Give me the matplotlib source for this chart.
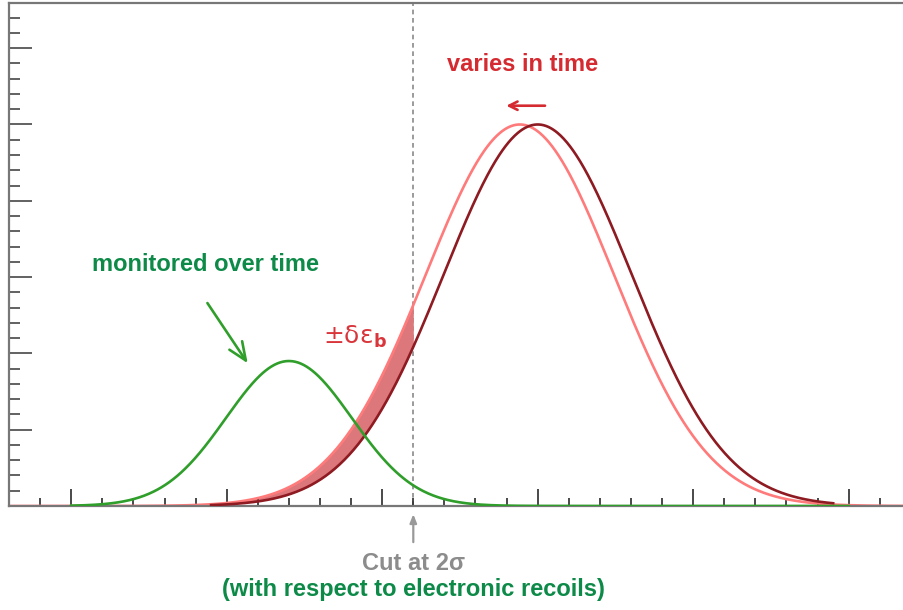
import numpy as np
import matplotlib
matplotlib.use("Agg")
import matplotlib.pyplot as plt
from matplotlib.ticker import MultipleLocator, NullFormatter

plt.rcParams['font.family'] = ['Liberation Sans', 'DejaVu Sans']

# Gaussian shapes: (centre, width, height)
nuclear_peak = (1.40, 0.405, 1.90)        # monitored population (green)
electronic_peak = (3.00, 0.605, 5.00)     # electronic recoils, reference position
electronic_shifted = (2.885, 0.605, 5.00) # electronic recoils, shifted in time
cut_position = 2.20

# drawing ranges of the curves
green_range = (0.0, 5.0)
dark_range = (0.9, 4.9)

x_limits = (-0.4, 5.6)
y_limits = (0.0, 6.592)

GREEN = '#2f9e2a'
PINK = '#ff7a7a'
DARK = '#8e1a22'
FILL = '#dc777b'
TEXT_GREEN = '#0d8a48'
TEXT_RED = '#d42a30'
GRAY = '#8c8c8c'
FS = 17


def gauss(x, p):
    mu, sig, amp = p
    return amp * np.exp(-0.5 * ((x - mu) / sig) ** 2)


fig = plt.figure(figsize=(9.04, 6.10), dpi=100)
ax = fig.add_axes([9 / 904, 104 / 610, 933 / 904, 503 / 610])
ax.set_xlim(*x_limits)
ax.set_ylim(*y_limits)

x_all = np.linspace(x_limits[0], x_limits[1], 1200)
x_green = np.linspace(*green_range, 800)
x_dark = np.linspace(*dark_range, 800)
x_fill = np.linspace(0.9, cut_position, 400)

ax.fill_between(x_fill, gauss(x_fill, electronic_peak), gauss(x_fill, electronic_shifted),
                color=FILL, lw=0, zorder=1)
ax.plot(x_all, gauss(x_all, electronic_shifted), color=PINK, lw=1.9, zorder=2)
ax.plot(x_dark, gauss(x_dark, electronic_peak), color=DARK, lw=1.9, zorder=3)
ax.plot(x_green, gauss(x_green, nuclear_peak), color=GREEN, lw=1.9, zorder=4)

ax.axvline(cut_position, color='#8a8a8a', lw=1.2, ls=(0, (2.8, 2.2)), zorder=0)

# frame and ticks
for side in ('left', 'bottom', 'top'):
    ax.spines[side].set_color('#777777')
    ax.spines[side].set_linewidth(1.6)
ax.spines['right'].set_visible(False)

ax.xaxis.set_major_locator(MultipleLocator(1.0))
ax.xaxis.set_minor_locator(MultipleLocator(0.2))
ax.yaxis.set_major_locator(MultipleLocator(1.0))
ax.yaxis.set_minor_locator(MultipleLocator(0.2))
ax.xaxis.set_major_formatter(NullFormatter())
ax.yaxis.set_major_formatter(NullFormatter())
ax.tick_params(axis='x', which='major', direction='in', length=12.5, width=1.2, color='#2a2a2a')
ax.tick_params(axis='x', which='minor', direction='in', length=5.5, width=1.2, color='#2a2a2a')
ax.tick_params(axis='y', which='major', direction='in', length=16.5, width=1.3, color='#555555')
ax.tick_params(axis='y', which='minor', direction='in', length=8.0, width=1.3, color='#555555')

# annotations
ax.text(2.905, 5.79, 'varies in time', color=TEXT_RED, fontsize=FS, fontweight='bold',
        ha='center', va='center')
ax.annotate('', xy=(2.78, 5.246), xytext=(3.065, 5.246),
            arrowprops=dict(arrowstyle='->,head_length=0.6,head_width=0.3', color=TEXT_RED, lw=1.9))

ax.text(0.866, 3.159, 'monitored over time', color=TEXT_GREEN, fontsize=FS, fontweight='bold',
        ha='center', va='center')
ax.annotate('', xy=(1.145, 1.84), xytext=(0.866, 2.69),
            arrowprops=dict(arrowstyle='->,head_length=1.3,head_width=0.55', color=GREEN, lw=1.9))

ax.text(1.825, 2.22, '±δε$_{\\mathbf{b}}$', color='#d9363c', fontsize=18,
        family='DejaVu Sans', ha='center', va='center')

ax.annotate('', xy=(cut_position, -0.07), xytext=(cut_position, -0.51),
            arrowprops=dict(arrowstyle='-|>,head_length=0.5,head_width=0.2', color='#999999', lw=1.6),
            annotation_clip=False)
ax.text(cut_position, -0.75, 'Cut at 2σ', color=GRAY, fontsize=FS, fontweight='bold',
        ha='center', va='center', clip_on=False)
ax.text(cut_position, -1.10, '(with respect to electronic recoils)', color=TEXT_GREEN,
        fontsize=FS, fontweight='bold', ha='center', va='center', clip_on=False)

fig.savefig('out.png', dpi=100)
